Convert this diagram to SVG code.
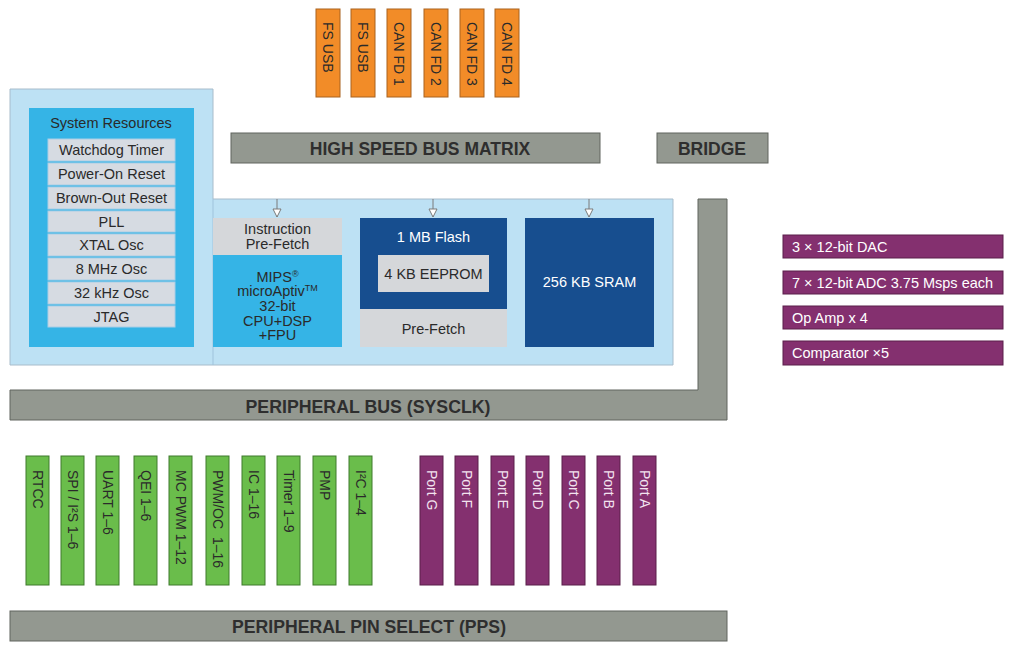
<svg xmlns="http://www.w3.org/2000/svg" width="1015" height="651" viewBox="0 0 1015 651">
<style>
text{font-family:"Liberation Sans",Arial,sans-serif;fill:#2a2a2a}
.t14{font-size:14.5px}
.c{text-anchor:middle}
.bus{fill:#939890;stroke:#60645e;stroke-width:1}
.busT{font-size:17.5px;font-weight:bold;text-anchor:middle;fill:#2e2e2e}
.orange{fill:#f28c28;stroke:#a9621f;stroke-width:1}
.green{fill:#6abd4b;stroke:#3e7a2c;stroke-width:1}
.purple{fill:#84306f;stroke:#5a1f4b;stroke-width:1}
.item{fill:#d6dbe2;stroke:#a9cde6;stroke-width:1}
.gray{fill:#d5d7da}
.dblue{fill:#174e8f}
.mblue{fill:#35b4e6}
.vt{font-size:14px}
.wt{fill:#ffffff}
.pt{fill:#f3e3ef}
</style>
<defs>
<marker id="ah" viewBox="0 0 10 10" refX="9" refY="5" markerWidth="10" markerHeight="10" markerUnits="userSpaceOnUse" orient="auto">
<path d="M1,1 L9,5 L1,9 Z" fill="#ffffff" stroke="#7a7a7a" stroke-width="1"/>
</marker>
</defs>

<!-- background panel -->
<g id="core-panel">
<path d="M10,89 H213 V199 H673 V365 H10 Z" fill="#bde1f4" stroke="#a8bccb" stroke-width="1"/>
<line x1="213" y1="199" x2="213" y2="365" stroke="#9fc3dc" stroke-width="1"/>
</g>

<!-- orange top -->
<g id="fs-usb-1"><rect class="orange" x="316" y="9" width="24" height="88"/><text class="vt" transform="translate(323,22) rotate(90)">FS USB</text></g>
<g id="fs-usb-2"><rect class="orange" x="351" y="9" width="24" height="88"/><text class="vt" transform="translate(358,22) rotate(90)">FS USB</text></g>
<g id="can-fd-1"><rect class="orange" x="387" y="9" width="24" height="88"/><text class="vt" transform="translate(394,22) rotate(90)">CAN FD 1</text></g>
<g id="can-fd-2"><rect class="orange" x="424" y="9" width="24" height="88"/><text class="vt" transform="translate(431,22) rotate(90)">CAN FD 2</text></g>
<g id="can-fd-3"><rect class="orange" x="460" y="9" width="24" height="88"/><text class="vt" transform="translate(467,22) rotate(90)">CAN FD 3</text></g>
<g id="can-fd-4"><rect class="orange" x="495" y="9" width="24" height="88"/><text class="vt" transform="translate(502,22) rotate(90)">CAN FD 4</text></g>

<!-- buses -->
<g id="high-speed-bus-matrix"><rect class="bus" x="231" y="133" width="369" height="30"/><text class="busT" x="420" y="154.5">HIGH SPEED BUS MATRIX</text></g>
<g id="bridge"><rect class="bus" x="657" y="133" width="111" height="30"/><text class="busT" x="712" y="154.5">BRIDGE</text></g>
<g id="peripheral-bus"><path class="bus" d="M10,390 H698 V199 H727 V420 H10 Z"/><text class="busT" x="368" y="412.5" style="font-size:18.5px" textLength="245" lengthAdjust="spacingAndGlyphs">PERIPHERAL BUS (SYSCLK)</text></g>
<g id="pps"><rect class="bus" x="10" y="611" width="717" height="30"/><text class="busT" x="369" y="633" style="font-size:18.5px" textLength="274" lengthAdjust="spacingAndGlyphs">PERIPHERAL PIN SELECT (PPS)</text></g>

<!-- system resources -->
<g id="system-resources">
<rect class="mblue" x="29" y="108" width="165" height="239"/>
<text class="t14 c" x="111" y="128">System Resources</text>
<rect class="item" x="48" y="139" width="127" height="22"/><text class="t14 c" x="111.5" y="155">Watchdog Timer</text>
<rect class="item" x="48" y="163" width="127" height="22"/><text class="t14 c" x="111.5" y="179">Power-On Reset</text>
<rect class="item" x="48" y="187" width="127" height="22"/><text class="t14 c" x="111.5" y="203">Brown-Out Reset</text>
<rect class="item" x="48" y="211" width="127" height="21"/><text class="t14 c" x="111.5" y="227">PLL</text>
<rect class="item" x="48" y="234" width="127" height="22"/><text class="t14 c" x="111.5" y="250">XTAL Osc</text>
<rect class="item" x="48" y="258" width="127" height="22"/><text class="t14 c" x="111.5" y="274">8 MHz Osc</text>
<rect class="item" x="48" y="282" width="127" height="22"/><text class="t14 c" x="111.5" y="298">32 kHz Osc</text>
<rect class="item" x="48" y="306" width="127" height="21"/><text class="t14 c" x="111.5" y="322">JTAG</text>
</g>

<!-- CPU -->
<g id="instruction-prefetch"><rect class="gray" x="213" y="218" width="129" height="37"/><text class="t14 c" x="277.5" y="234">Instruction</text><text class="t14 c" x="277.5" y="249">Pre-Fetch</text></g>
<g id="cpu">
<rect class="mblue" x="213" y="255" width="129" height="92"/>
<text class="t14 c" x="277.5" y="282">MIPS<tspan font-size="9" dy="-5">®</tspan></text>
<text class="t14 c" x="277.5" y="296">microAptiv<tspan font-size="9" dy="-5">TM</tspan></text>
<text class="t14 c" x="277.5" y="311">32-bit</text>
<text class="t14 c" x="277.5" y="326">CPU+DSP</text>
<text class="t14 c" x="277.5" y="340">+FPU</text>
</g>

<g id="flash">
<rect class="dblue" x="360" y="218" width="147" height="91"/>
<text class="t14 c wt" x="433.5" y="242">1 MB Flash</text>
</g>
<g id="eeprom"><rect class="gray" x="378" y="255" width="111" height="37"/><text class="t14 c" x="433.5" y="279">4 KB EEPROM</text></g>
<g id="prefetch"><rect class="gray" x="360" y="309" width="147" height="38"/><text class="t14 c" x="433.5" y="334">Pre-Fetch</text></g>
<g id="sram"><rect class="dblue" x="525" y="218" width="129" height="129"/><text class="t14 c wt" x="589.5" y="287">256 KB SRAM</text></g>

<!-- analog -->
<g id="dac"><rect class="purple" x="783" y="235" width="220" height="23"/><text class="t14 wt" x="792" y="251.5">3 × 12-bit DAC</text></g>
<g id="adc"><rect class="purple" x="783" y="271" width="220" height="23"/><text class="t14 wt" x="792" y="287.5">7 × 12-bit ADC 3.75 Msps each</text></g>
<g id="opamp"><rect class="purple" x="783" y="306" width="220" height="23"/><text class="t14 wt" x="792" y="322.5">Op Amp x 4</text></g>
<g id="comparator"><rect class="purple" x="783" y="341" width="220" height="24"/><text class="t14 wt" x="792" y="358">Comparator ×5</text></g>

<!-- green peripherals -->
<g id="rtcc"><rect class="green" x="26" y="456" width="23" height="129"/><text class="vt" transform="translate(32.5,470) rotate(90)">RTCC</text></g>
<g id="spi"><rect class="green" x="61" y="456" width="23" height="129"/><text class="vt" transform="translate(67.5,470) rotate(90)">SPI / I²S 1–6</text></g>
<g id="uart"><rect class="green" x="96" y="456" width="23" height="129"/><text class="vt" transform="translate(102.5,470) rotate(90)">UART 1–6</text></g>
<g id="qei"><rect class="green" x="134" y="456" width="23" height="129"/><text class="vt" transform="translate(140.5,470) rotate(90)">QEI 1–6</text></g>
<g id="mcpwm"><rect class="green" x="169" y="456" width="23" height="129"/><text class="vt" transform="translate(175.5,470) rotate(90)">MC PWM 1–12</text></g>
<g id="pwmoc"><rect class="green" x="206" y="456" width="23" height="129"/><text class="vt" xml:space="preserve" transform="translate(212.5,470) rotate(90)">PWM/OC  1–16</text></g>
<g id="ic"><rect class="green" x="242" y="456" width="23" height="129"/><text class="vt" transform="translate(248.5,470) rotate(90)">IC 1–16</text></g>
<g id="timer"><rect class="green" x="277" y="456" width="23" height="129"/><text class="vt" transform="translate(283.5,470) rotate(90)">Timer 1–9</text></g>
<g id="pmp"><rect class="green" x="313" y="456" width="23" height="129"/><text class="vt" transform="translate(319.5,470) rotate(90)">PMP</text></g>
<g id="i2c"><rect class="green" x="349" y="456" width="23" height="129"/><text class="vt" transform="translate(355.5,470) rotate(90)">I²C 1–4</text></g>

<!-- ports -->
<g id="port-g"><rect class="purple" x="420" y="456" width="23" height="129"/><text class="vt pt" transform="translate(426.5,470) rotate(90)">Port G</text></g>
<g id="port-f"><rect class="purple" x="455" y="456" width="23" height="129"/><text class="vt pt" transform="translate(461.5,470) rotate(90)">Port F</text></g>
<g id="port-e"><rect class="purple" x="491" y="456" width="23" height="129"/><text class="vt pt" transform="translate(497.5,470) rotate(90)">Port E</text></g>
<g id="port-d"><rect class="purple" x="526" y="456" width="23" height="129"/><text class="vt pt" transform="translate(532.5,470) rotate(90)">Port D</text></g>
<g id="port-c"><rect class="purple" x="562" y="456" width="23" height="129"/><text class="vt pt" transform="translate(568.5,470) rotate(90)">Port C</text></g>
<g id="port-b"><rect class="purple" x="597" y="456" width="23" height="129"/><text class="vt pt" transform="translate(603.5,470) rotate(90)">Port B</text></g>
<g id="port-a"><rect class="purple" x="633" y="456" width="23" height="129"/><text class="vt pt" transform="translate(639.5,470) rotate(90)">Port A</text></g>

<!-- connectors -->
<g id="connectors" stroke="#7a7a7a" stroke-width="1" fill="none">
<line x1="277" y1="199" x2="277" y2="217" marker-end="url(#ah)"/>
<line x1="433" y1="199" x2="433" y2="217" marker-end="url(#ah)"/>
<line x1="589" y1="199" x2="589" y2="217" marker-end="url(#ah)"/>
</g>
</svg>
